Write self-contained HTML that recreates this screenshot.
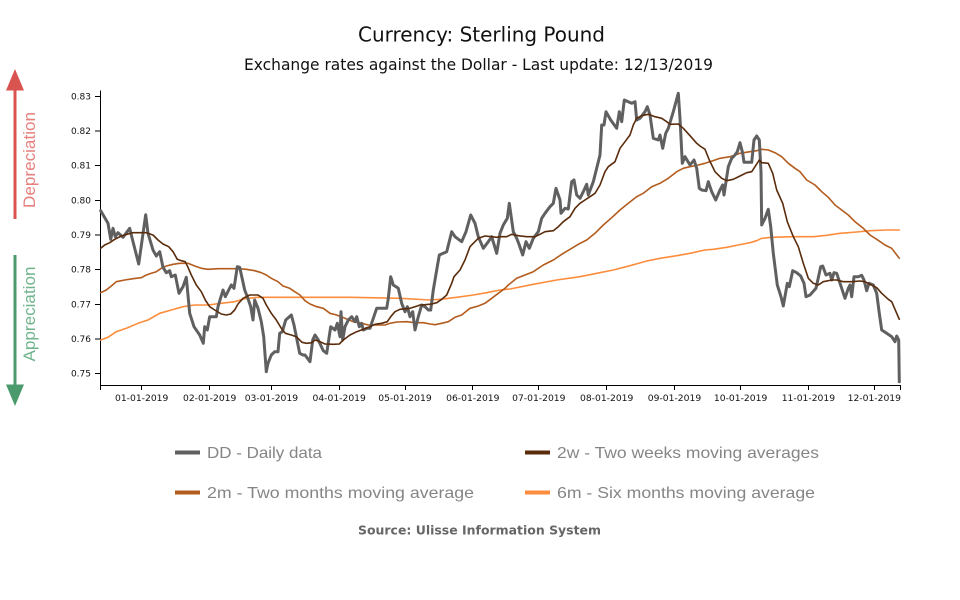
<!DOCTYPE html>
<html>
<head>
<meta charset="utf-8">
<style>
html,body{margin:0;padding:0;background:#fff;}
svg{display:block;}
</style>
</head>
<body>
<svg width="960" height="600" viewBox="0 0 960 600" xmlns="http://www.w3.org/2000/svg">
<rect width="960" height="600" fill="#fff"/>
<!-- Titles -->
<text x="358" y="41.5" font-family="DejaVu Sans, sans-serif" font-size="20" fill="#111" textLength="247" lengthAdjust="spacingAndGlyphs">Currency: Sterling Pound</text>
<text x="244" y="70" font-family="DejaVu Sans, sans-serif" font-size="16" fill="#111" textLength="469" lengthAdjust="spacingAndGlyphs">Exchange rates against the Dollar - Last update: 12/13/2019</text>

<!-- Side arrows -->
<rect x="13.5" y="88" width="3" height="131" fill="#d9534f"/>
<polygon points="6,90.5 24,90.5 15,69" fill="#d9534f"/>
<text transform="translate(35,160) rotate(-90)" text-anchor="middle" font-family="Liberation Sans, sans-serif" font-size="17" fill="#e6807c" textLength="96" lengthAdjust="spacingAndGlyphs">Depreciation</text>
<rect x="13.5" y="255" width="3" height="131" fill="#4a9a6c"/>
<polygon points="6,384.5 24,384.5 15,406" fill="#4a9a6c"/>
<text transform="translate(35,314) rotate(-90)" text-anchor="middle" font-family="Liberation Sans, sans-serif" font-size="17" fill="#6fb48c" textLength="95" lengthAdjust="spacingAndGlyphs">Appreciation</text>

<!-- Axes -->
<g stroke="#000" stroke-width="1" fill="none" shape-rendering="crispEdges">
<path d="M100.5,90.5V385.5H900.5V390"/>
<path d="M100.5,385.5V390"/>
<path d="M95,96.5H100 M95,131H100 M95,165.5H100 M95,200.5H100 M95,235H100 M95,269.5H100 M95,304.5H100 M95,339H100 M95,373.5H100"/>
<path d="M141.5,385V390 M209.5,385V390 M271.5,385V390 M339.5,385V390 M405.5,385V390 M472.5,385V390 M538.5,385V390 M606.5,385V390 M674.5,385V390 M740.5,385V390 M808.5,385V390 M874.5,385V390"/>
</g>
<g font-family="DejaVu Sans, sans-serif" font-size="9" fill="#111" text-anchor="end">
<text x="91" y="99.5">0.83</text>
<text x="91" y="134">0.82</text>
<text x="91" y="168.5">0.81</text>
<text x="91" y="203.5">0.80</text>
<text x="91" y="238">0.79</text>
<text x="91" y="272.5">0.78</text>
<text x="91" y="307.5">0.77</text>
<text x="91" y="342">0.76</text>
<text x="91" y="376.5">0.75</text>
</g>
<g font-family="DejaVu Sans, sans-serif" font-size="9.2" fill="#111" text-anchor="middle">
<text x="141.7" y="401">01-01-2019</text>
<text x="209.7" y="401">02-01-2019</text>
<text x="271.4" y="401">03-01-2019</text>
<text x="339.2" y="401">04-01-2019</text>
<text x="405" y="401">05-01-2019</text>
<text x="472.8" y="401">06-01-2019</text>
<text x="538.8" y="401">07-01-2019</text>
<text x="606.7" y="401">08-01-2019</text>
<text x="674.5" y="401">09-01-2019</text>
<text x="740.6" y="401">10-01-2019</text>
<text x="808.4" y="401">11-01-2019</text>
<text x="874.3" y="401">12-01-2019</text>
</g>

<!-- Series -->
<g fill="none" stroke-linejoin="round" stroke-linecap="round">
<polyline stroke="#fd8d3c" stroke-width="1.6" points="100.7,340 108,337.3 116.3,331.7 126.3,328.3 138,323.3 148,320 159.7,313.3 171.3,310 183,306.7 194.7,305 208,305 221.3,303.3 234.7,301.7 244.7,298.7 258,297.3 274.7,297.3 303,297.3 350,297.3 400,298.3 430,300 440,299.3 456.7,297.3 473.3,295 486.7,292.7 500,290 510,289 533.3,284.3 556.7,280 580,276.7 596.7,273.3 613.3,270 630,265.7 646.7,261 660,258.3 676.7,255.7 690,253.3 705,250 713.3,249.3 726.7,247.3 738.3,245 750,242.7 756.7,240.7 761.7,238.3 771.7,237.3 793.3,236.7 813.3,236.7 826.7,235.3 840,233.3 856.7,232 870,230.7 886.7,230 899.3,230"/>
<polyline stroke="#b35c1e" stroke-width="1.6" points="100.7,292.7 106.3,290 111.3,286 116.3,281.7 124.7,280 133,278.7 141.3,277.7 146.3,275 151.3,273.3 156.3,271.7 161.3,268.3 166.3,266 173,264.3 179.7,263.3 188,263.3 194.7,266 201.3,268.3 208,269.3 218,268.7 228,268.7 238,268.7 246.3,269.3 254.7,270.7 261.3,272.7 266.3,275 271.3,278.3 278,281.7 283,286 289.7,288.3 294.7,291.7 300,295 305,300.7 310,304 316.7,306.7 323.3,308.3 330,313.3 336.7,315 345,318.3 353.3,321.7 361.7,323.3 368.3,325 376.7,325 385,325 390,323.3 396.7,322 406.7,321.7 415,322.7 423.3,322.7 430,324 435,324.7 441.7,323.3 448.3,321.7 455,317.3 461.7,315 470,308.3 478.3,306 485,303.3 491.7,298.3 498.3,293.3 505,288.3 508.3,285 516.7,278.3 525,275 533.3,271.7 543.3,265 553.3,260 563.3,253.3 571.7,248.3 578.3,244.3 586.7,240 595,233.3 603.3,225 611.7,217.7 620,210 628.3,203.3 636.7,196.7 643.3,193.3 651.7,186.7 660,183.3 668.3,178.3 676.7,171.7 683.3,168.3 690,166.7 698.3,165 705,163.3 710,161.7 720,158.3 730,156.7 740,153.3 750,151.7 756.7,150.7 761.7,149.3 768.3,150 775,152.7 781.7,156.7 788.3,163.3 795,168.3 800,171.7 806.7,180 815,185 821.7,191.7 828.3,197.3 835,205 841.7,210 848.3,215 855,221.7 863.3,228.3 870,235 876.7,239.3 885,245 891.7,248.3 899.3,258.3"/>
<polyline stroke="#606060" stroke-width="3" points="100.7,210.7 108,223.3 110.7,239.3 113,228.3 115.3,236.7 118,232.7 123,237.3 129.7,228.3 133,241.7 138.7,264 145.7,214.7 148,233.3 153,250 156.3,256 159.7,251.7 163,267.3 166.3,272.7 169.7,270.7 171.3,276.7 175.3,275 179,293.3 183,286.7 186.3,277.3 189.7,313.3 194,326.7 199.7,335 203.3,343.3 204.7,326.7 207.3,330 209.7,316.7 216.3,316.7 218,306.7 223,290 225.3,296.7 228.7,290 231.3,285 234,288.3 237.3,266.7 239.7,267.3 244.7,290 247.3,296.7 250.7,306.7 253,320 254.7,300 258,308.3 261.3,321.7 263.7,336.7 266.3,371.7 268,363.3 271.3,355 274.7,351.7 278,351.7 279.7,333.3 282.3,331.7 285.7,320 291.3,315 294,325 299.7,353.3 303,355 305,355 310,361.7 312.7,340 315,335 318.3,340 323.3,350.7 326.7,353.3 330.7,326.7 335,330 337.3,323.3 340,336.7 341,311.7 342.7,340 345,326.7 348.3,320 351.7,316.7 355,321.7 356.7,316.7 359.3,326.7 361.7,323.3 363.3,330 366.7,328.3 370,328.3 373.3,318.3 376.7,308.3 386.7,308.3 388.3,298.3 390.7,276.7 393.3,285 398.3,288.3 401.7,303.3 405,311.7 407.3,306.7 410,316.7 412.7,311.7 415,330 418.3,316.7 421.7,305 425,306.7 428.3,310 430.7,310 433.3,290 436.7,270 439.3,255 446.7,251.7 451.7,231.7 455,236.7 461.7,241.7 466,231.7 470.7,215 475,223.3 478.3,236.7 483.3,248.3 488.3,241.7 491.7,236.7 496.7,253.3 500,233.3 503.3,225 507.3,218.3 509.3,203.3 513.3,231.7 516.7,238.3 519.3,245 522.7,255 526,241.7 529.3,248.3 533.3,238.3 538.3,231.7 541.7,218.3 545,213.3 550,206.7 553.3,203.3 556,188.3 560,200 561,213.3 565,208.3 568.3,209 571.7,181.7 574,180 576.7,195 580,198.3 583.3,191.7 586.7,184.3 588.3,195 593.3,181.7 600,155 601.7,125 604,125 606,111.7 610.7,120 616.7,128.3 619.3,111.7 621.7,121.7 624.3,100 631.7,103.3 635,101.7 636.7,120 640,118.3 645,111.7 647.3,106.7 650,115 653.3,138.3 658.3,140 660,135 662.7,148.3 665.7,133.3 668.3,128.3 673.3,111.7 678.3,93.3 680,118.3 682.3,163.3 685,156.7 690,165 694,160 696.7,168.3 699.3,188.3 701.7,190 706,190.7 708.3,181.7 711.7,191.7 715.7,200 720,190 722.7,185 724,195 726,181.7 728.3,166.7 731.7,158.3 735,155 737.3,151.7 740,142.7 742.7,153.3 744,162.3 751.7,162.3 754,140 756.7,136 759.3,140 761,171.7 761.7,225 765,218.3 768.3,209.3 770.7,226.7 773.3,253.3 777.3,285 781,296.7 783.3,306 787.3,283.3 789.3,286.7 792.7,270.7 796.7,272.7 800.7,276 804,283.3 806,296.7 810,295 816,288.3 820.7,266.7 822.7,266 826,275 830,273.3 831.7,280 834,272.7 836.7,273.3 841.7,288.3 845,298.3 848.3,288.3 850,285 851.7,296.7 854,276.7 858.3,276.7 861.7,275.3 864,280 866.7,290.7 869,283.3 873.3,285 876.7,293.3 879.3,313.3 881.7,330 886.7,333.3 891.7,336.7 895,341.7 896.7,336 898.7,340 899.3,381.7"/>
<polyline stroke="#5a2c0c" stroke-width="1.6" points="100.7,248.3 104.7,245 109.7,242.7 114.7,239.3 121.3,236 128,234 133,232.7 141.3,232.7 146.3,232.7 153,235 158,240 163,244 168.7,246.7 173,251.7 177.3,259.3 181.3,260.7 185.3,261.7 188,267.3 191.3,275 196.3,285 201.3,291.7 205.3,300 209.7,306.7 214.7,310 221.3,314 226.3,315 230.7,314 234.7,310 238,304 243,298.3 249.7,295 258,295 263,298.3 266.3,305 271.3,313.3 276.3,320 281.3,328.3 285.3,333.3 291.3,335 296.3,336.7 302,342.3 306.7,343.3 311.7,342.7 315,340 320,341.7 325,344 333.3,344.3 339.3,344 343.3,340 350,335 356.7,331.7 363.3,329.3 370,326.7 375,324.3 381.7,323.3 387.3,321.7 390.7,316.7 395,311.7 400,309.3 410,308.3 415,306.7 420,305 425,304.7 431.7,304 436.7,302.7 441.7,299.3 446.7,295 451.7,283.3 454,276.7 460,270 465,260 470,246.7 473.3,243.3 478.3,238.3 485,236 491.7,236.7 496.7,237.3 500,236.7 506.7,236.7 511.7,234.3 518.3,235.7 526.7,236.7 535,236.7 540,234.3 545,231.7 553.3,230.7 558.3,226.7 563.3,221.7 570,216.7 575,208.3 580,203.3 585,200 590,196.7 595,193.3 600,185 605,171.7 608.3,166.7 615,161.7 620,148.3 625,141.7 630,135 633.3,125 636.7,118.3 641.7,115.7 648.3,114.3 655,116.7 661.7,118.3 666.7,121.7 670,124.3 678.3,124 683.3,128.3 690,135.7 696.7,143.3 700,146 705,149.3 709.3,160 715,171.7 721.7,178.3 726.7,180.7 733.3,179.3 740,176 746.7,172.7 751.7,171.7 755,166.7 759.3,160 761.7,162.7 768.3,163.3 772.7,173.3 776.7,190 782.7,203.3 787.3,221.7 793.3,236.7 798.3,246.7 803.3,263.3 808.3,278.3 813.3,283.3 818.3,285 823.3,281.7 831.7,280 836.7,280 843.3,281.7 851.7,281.7 860,281 865,281.7 870,284.3 876.7,287.7 881.7,293.3 888.3,299.3 891.7,301.7 896.7,313.3 899.3,319.3"/>
</g>

<!-- Legend -->
<rect x="175" y="450.5" width="25" height="4" fill="#606060"/>
<text x="207" y="458" font-family="Liberation Sans, sans-serif" font-size="16" fill="#858585" textLength="115" lengthAdjust="spacingAndGlyphs">DD - Daily data</text>
<rect x="525" y="450.5" width="25" height="4" fill="#5a2c0c"/>
<text x="557" y="458" font-family="Liberation Sans, sans-serif" font-size="16" fill="#858585" textLength="262" lengthAdjust="spacingAndGlyphs">2w - Two weeks moving averages</text>
<rect x="175" y="490.5" width="25" height="4" fill="#b35c1e"/>
<text x="207" y="498" font-family="Liberation Sans, sans-serif" font-size="16" fill="#858585" textLength="267" lengthAdjust="spacingAndGlyphs">2m - Two months moving average</text>
<rect x="525" y="490.5" width="25" height="4" fill="#fd8d3c"/>
<text x="557" y="498" font-family="Liberation Sans, sans-serif" font-size="16" fill="#858585" textLength="258" lengthAdjust="spacingAndGlyphs">6m - Six months moving average</text>

<text x="358" y="534.5" font-family="DejaVu Sans, sans-serif" font-size="12" font-weight="bold" fill="#666" textLength="243" lengthAdjust="spacingAndGlyphs">Source: Ulisse Information System</text>
</svg>
</body>
</html>
